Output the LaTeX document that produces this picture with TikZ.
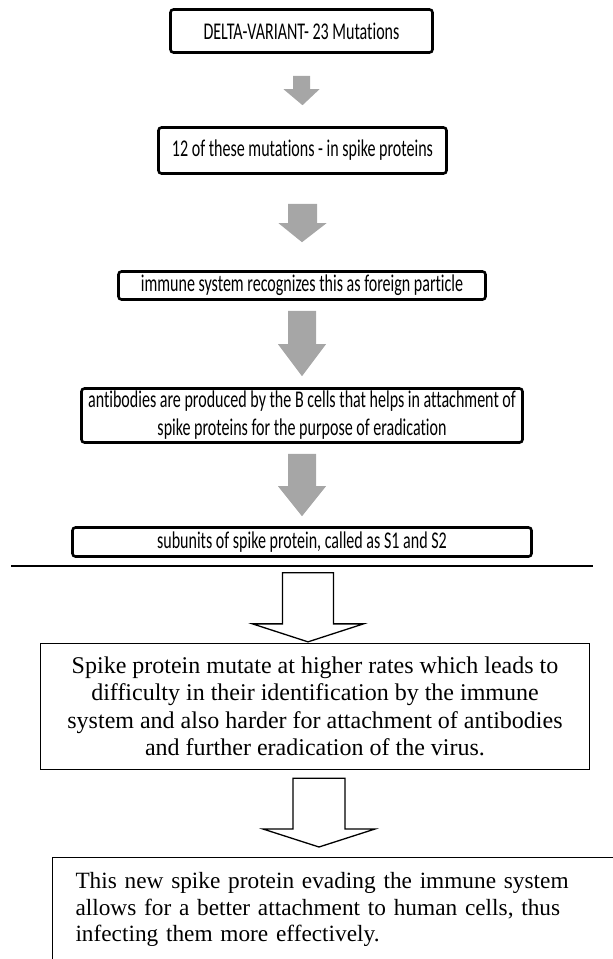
\documentclass[tikz,border=0pt]{standalone}
\usepackage{fontspec}
\setmainfont{Liberation Serif}
\newfontfamily\narrowfont[FakeStretch=0.668, Ligatures={NoCommon}]{Carlito}
\usetikzlibrary{calc}
\definecolor{arrowGray}{HTML}{A6A6A6}

\newcommand{\flowarrow}[6]{%
  \draw[#1] let \p1=(#2), \p2=(#3) in
    (\x1-#4,\y1) -- (\x1+#4,\y1) -- (\x1+#4,\y2+#6) -- (\x1+#5,\y2+#6) -- (\x2,\y2)
    -- (\x1-#5,\y2+#6) -- (\x1-#4,\y2+#6) -- cycle;}

\begin{document}
\begin{tikzpicture}[x=1pt, y=-1pt,
    stepBox/.style={draw=black, line width=2.6pt, rectangle, rounded corners=3pt, fill=white, align=center, inner sep=0pt, font=\narrowfont\fontsize{24}{28}\selectfont},
    noteBox/.style={draw=black, line width=1.3pt, rectangle, fill=white, align=center, inner sep=0pt, font=\fontsize{24}{27.5}\selectfont},
    endBox/.style={draw=black, line width=1pt, rectangle, fill=white, align=left, inner xsep=23pt, inner ysep=15pt, font=\fontsize{23.3}{26.5}\selectfont},
    grayArrow/.style={fill=arrowGray, draw=none},
    hollowArrow/.style={draw=black, line width=1.3pt, fill=white, line join=miter},
]
\useasboundingbox (0,0) rectangle (613,959);
\clip (0,0) rectangle (613,959);
\node[stepBox, minimum width=262pt, minimum height=43pt] (delta) at (301.5, 31) {DELTA-VARIANT- 23 Mutations};
\node[stepBox, minimum width=288pt, minimum height=46pt] (spike) at (302.5, 150.5) {12 of these mutations - in spike proteins};
\node[stepBox, minimum width=367pt, minimum height=28pt] (immune) at (302, 285.5) {immune system recognizes this as foreign particle};
\node[stepBox, minimum width=441pt, minimum height=54pt] (antib) at (302, 415.5) {antibodies are produced by the B cells that helps in attachment of\\ spike proteins for the purpose of eradication};
\node[stepBox, minimum width=459pt, minimum height=29pt] (subunit) at (302, 542) {subunits of spike protein, called as S1 and S2};
\coordinate (ruleL) at (11, 566);
\coordinate (ruleR) at (593, 566);
\draw[line width=2.6pt] (ruleL) -- (ruleR);
\node[noteBox, minimum width=549pt, minimum height=126pt] (mutate) at (315, 706.5) {Spike protein mutate at higher rates which leads to\\ difficulty in their identification by the immune\\ system and also harder for attachment of antibodies\\ and further eradication of the virus.};
\node[endBox, text width=560pt, anchor=north west] (evade) at (52, 857) {This new spike protein evading the immune system\\ allows for a better attachment to human cells, thus\\ infecting them more effectively.};

\flowarrow{grayArrow}{$(delta.south)+(0,22)$}{$(spike.north)+(0,-21)$}{8.5}{18}{16}
\flowarrow{grayArrow}{$(spike.south)+(0,29)$}{$(immune.north)+(0,-28)$}{14.5}{24}{19}
\flowarrow{grayArrow}{$(immune.south)+(0,10)$}{$(antib.north)+(0,-11)$}{14}{24}{32}
\flowarrow{grayArrow}{$(antib.south)+(0,10)$}{$(subunit.north)+(0,-10)$}{14}{24}{30}
\flowarrow{hollowArrow}{$(subunit.south)+(6,15)$}{$(mutate.north)+(-7,-1)$}{25.5}{55.5}{18}
\flowarrow{hollowArrow}{$(mutate.south)+(4,8)$}{$(evade.north west)+(267,-10)$}{26}{56}{18}
\end{tikzpicture}
\end{document}
